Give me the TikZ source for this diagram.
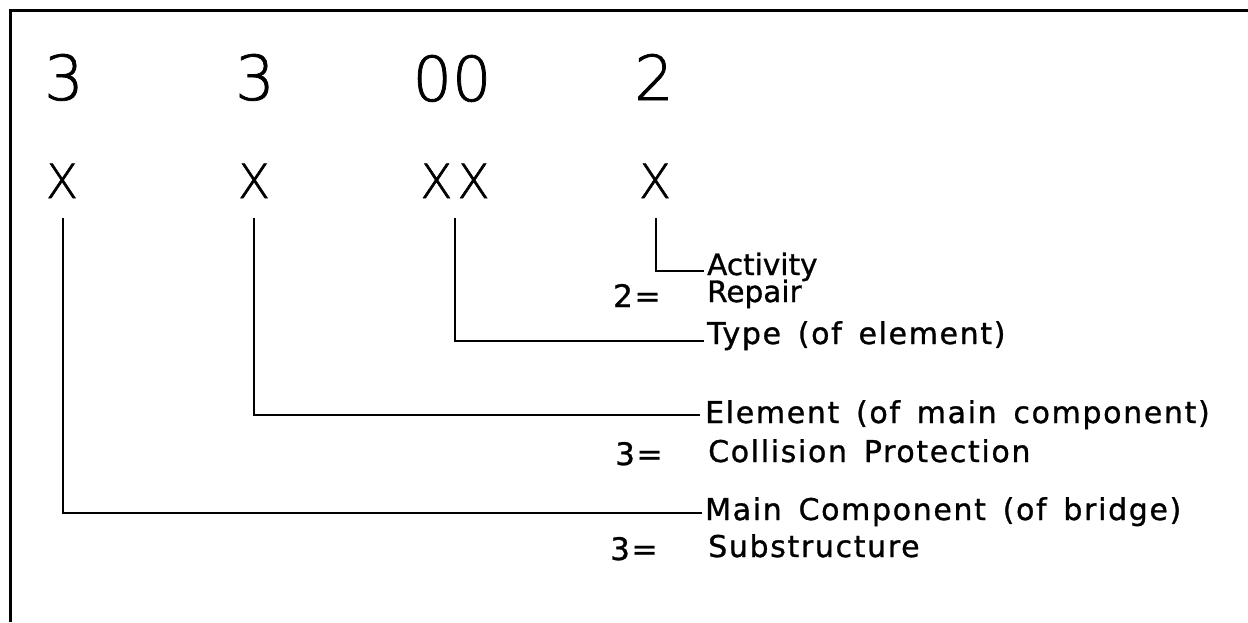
\documentclass[tikz,border=0pt]{standalone}
\usepackage{fontspec}
\setmainfont{DejaVu Sans}
\newfontfamily\digfont[FakeBold=1.2]{DejaVu Sans ExtraLight}
\newfontfamily\labfont[LetterSpace=5.5,WordSpace=1.5,FakeBold=1]{DejaVu Sans}
\newfontfamily\labfonttight[FakeBold=1]{DejaVu Sans}
\begin{document}
\begin{tikzpicture}[x=1pt,y=-1pt,
  big/.style={inner sep=0pt,anchor=base,font=\digfont\fontsize{62}{62}\selectfont},
  xmark/.style={inner sep=0pt,anchor=base,font=\digfont\fontsize{47}{47}\selectfont},
  lab/.style={inner sep=0pt,anchor=base west,font=\labfont\fontsize{30}{30}\selectfont},
  eq/.style={inner sep=0pt,anchor=base west,font=\labfont\fontsize{31}{31}\selectfont},
  labt/.style={inner sep=0pt,anchor=base west,font=\labfonttight\fontsize{29.5}{30}\selectfont},
  conn/.style={line width=2.4pt,line join=miter}]
\useasboundingbox (0,0) rectangle (1248,622);
\draw[line width=3pt] (10,622) -- (10,10) -- (1248,10);
% code digits
\node[big] (d1) at (64,100) {3};
\node[big] (d2) at (255,100) {3};
\node[big] (d3) at (452,101) {00};
\node[big] (d4) at (654,100) {2};
% X row
\node[xmark] (x1) at (62,198) {X};
\node[xmark] (x2) at (254,198) {X};
\node[xmark] (x3) at (455,198) {X\kern5pt X};
\node[xmark] (x4) at (655,198) {X};
% labels
\node[labt] (lact) at (707,275) {Activity};
\node[labt] (lrep) at (707,302) {Repair};
\node[eq] (e2) at (613,307) {2=};
\node[lab] (ltype) at (707,344) {Type (of element)};
\node[lab] (lelem) at (705,423) {Element (of main component)};
\node[eq] (e3a) at (615,465) {3=};
\node[lab] (lcoll) at (708,462) {Collision Protection};
\node[lab] (lmain) at (705,520) {Main Component (of bridge)};
\node[eq] (e3b) at (610,560) {3=};
\node[lab] (lsub) at (708,557) {Substructure};
% connectors
\draw[conn] (x1.south) ++(1,20) |- ([xshift=-3pt,yshift=-1pt]lmain.west);
\draw[conn] (x2.south) ++(0,20) |- ([xshift=-5pt]lelem.west);
\draw[conn] (x3.south) ++(0,20) |- ([xshift=-3pt,yshift=-5pt]ltype.west);
\draw[conn] (x4.south) ++(1,20) |- ([xshift=-3pt,yshift=-4pt]lact.west);
\end{tikzpicture}
\end{document}
